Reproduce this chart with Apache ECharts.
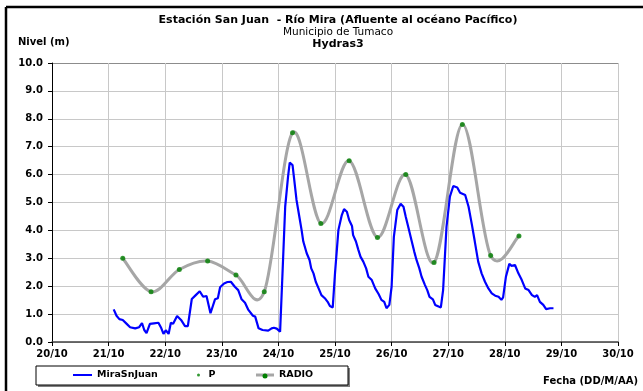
<!DOCTYPE html>
<html><head><meta charset="utf-8">
<script src="https://cdn.jsdelivr.net/npm/echarts@6/dist/echarts.min.js"></script>
<style>html,body{margin:0;padding:0;background:#fff}#c{width:643px;height:391px}</style>
</head><body><div id="c"></div>
<script>
const xTicks = ['20/10','21/10','22/10','23/10','24/10','25/10','26/10','27/10','28/10','29/10','30/10'];
const miraTimes = [21.09,21.14,21.19,21.25,21.32,21.38,21.47,21.54,21.59,21.63,
21.67,21.73,21.80,21.88,21.93,21.97,22.01,22.06,22.10,22.14,
22.21,22.28,22.35,22.40,22.47,22.54,22.61,22.67,22.73,22.80,
22.88,22.93,22.97,23.04,23.10,23.16,23.19,23.23,23.29,23.35,
23.41,23.47,23.55,23.59,23.65,23.72,23.82,23.88,23.92,23.97,
24.03,24.07,24.12,24.17,24.20,24.25,24.28,24.32,24.37,24.41,
24.44,24.50,24.55,24.58,24.62,24.66,24.71,24.76,24.82,24.87,
24.91,24.96,25.00,25.06,25.12,25.16,25.21,25.25,25.30,25.32,
25.37,25.41,25.45,25.50,25.55,25.59,25.65,25.71,25.77,25.82,
25.87,25.91,25.96,26.00,26.04,26.10,26.16,26.21,26.25,26.30,
26.35,26.40,26.44,26.49,26.53,26.59,26.63,26.67,26.73,26.77,
26.83,26.87,26.91,26.97,27.03,27.09,27.16,27.21,27.30,27.36,
27.42,27.47,27.53,27.59,27.65,27.71,27.77,27.83,27.89,27.94,
27.97,28.02,28.08,28.12,28.18,28.24,28.30,28.36,28.42,28.48,
28.53,28.57,28.62,28.68,28.73,28.80,28.86];
const miraValues = [1.17,0.94,0.82,0.79,0.65,0.53,0.49,0.53,0.68,0.43,
0.32,0.65,0.67,0.69,0.50,0.29,0.42,0.29,0.69,0.65,
0.93,0.79,0.57,0.57,1.54,1.68,1.82,1.62,1.65,1.03,
1.53,1.57,1.96,2.10,2.15,2.16,2.22,1.98,1.86,1.53,
1.41,1.15,0.94,0.91,0.49,0.43,0.41,0.49,0.51,0.48,
0.37,2.34,4.85,5.92,6.43,6.34,5.81,5.09,4.49,4.01,
3.60,3.18,2.94,2.64,2.46,2.16,1.92,1.68,1.57,1.44,
1.29,1.24,2.46,4.01,4.55,4.76,4.67,4.37,4.16,3.83,
3.60,3.32,3.06,2.88,2.64,2.34,2.22,1.92,1.72,1.51,
1.44,1.21,1.33,1.98,3.77,4.73,4.95,4.85,4.49,4.08,
3.66,3.24,2.94,2.64,2.34,2.04,1.86,1.62,1.53,1.33,
1.27,1.24,1.86,4.13,5.21,5.59,5.54,5.35,5.27,4.85,
4.19,3.60,2.88,2.46,2.16,1.92,1.74,1.66,1.62,1.51,
1.60,2.34,2.80,2.73,2.76,2.46,2.22,1.92,1.86,1.68,
1.62,1.68,1.44,1.33,1.18,1.21,1.21];
const radioTimes = [21.25,21.75,22.25,22.75,23.25,23.75,24.25,24.75,25.25,25.75,26.25,26.75,27.25,27.75,28.25];
const radioValues = [3.0,1.8,2.6,2.9,2.4,1.8,7.5,4.25,6.5,3.75,6.0,2.85,7.8,3.1,3.8];

const FONT = '"DejaVu Sans", sans-serif';
const zip = (a,b) => a.map((t,i)=>[t,b[i]]);
const gridColors = ['#c8c8c8','#c8c8c8','#c8c8c8','#c8c8c8','#c8c8c8','#c8c8c8','#c8c8c8','#c8c8c8','#c8c8c8','#c8c8c8','#8c8c8c'];
const legText = {fontFamily:FONT,fontWeight:'bold',fontSize:9.5,color:'#000'};

// Excel-like smoothed segment (Catmull-Rom as cubic Bezier) through the library's coordinate system
function radioSegment(params, api){
  const i = params.dataIndex;
  const n = radioTimes.length;
  if (i >= n - 1) return null;
  const P = j => api.coord([radioTimes[Math.max(0,Math.min(n-1,j))], radioValues[Math.max(0,Math.min(n-1,j))]]);
  const p0 = P(i-1), p1 = P(i), p2 = P(i+1), p3 = P(i+2);
  return {type:'bezierCurve',
    shape:{x1:p1[0],y1:p1[1],x2:p2[0],y2:p2[1],
      cpx1:p1[0]+(p2[0]-p0[0])/6, cpy1:p1[1]+(p2[1]-p0[1])/6,
      cpx2:p2[0]-(p3[0]-p1[0])/6, cpy2:p2[1]-(p3[1]-p1[1])/6},
    style:{stroke:'#a6a6a6',lineWidth:3,fill:null,lineCap:'round'}, silent:true};
}

const chart = echarts.init(document.getElementById('c'), null, {renderer:'canvas'});
chart.setOption({
  animation:false,
  backgroundColor:'#fff',
  grid:{left:52,right:25,top:63,bottom:49,containLabel:false},
  xAxis:{type:'value',min:20,max:30,interval:1,
    axisLine:{show:true,onZero:false,lineStyle:{color:'#404040',width:1.5}},
    axisTick:{show:true,length:4,lineStyle:{color:'#000'}},
    axisLabel:{margin:7,color:'#000',fontFamily:FONT,fontWeight:'bold',fontSize:10,
      formatter:v=>xTicks[Math.round(v-20)]},
    splitLine:{show:true,lineStyle:{color:'#c8c8c8',width:1}}},
  yAxis:{type:'value',min:0,max:10,interval:1,
    axisLine:{show:true,lineStyle:{color:'#000',width:1}},
    axisTick:{show:true,length:4,lineStyle:{color:'#000'}},
    axisLabel:{margin:9,color:'#000',fontFamily:FONT,fontWeight:'bold',fontSize:10,
      formatter:v=>v.toFixed(1)},
    splitLine:{show:true,lineStyle:{color:gridColors,width:1}}},
  legend:[
    {data:[{name:'MiraSnJuan',icon:'rect',itemStyle:{color:'#0000ff'}}],left:73,top:370,padding:0,itemWidth:19,itemHeight:2,textStyle:legText},
    {data:[{name:'P',icon:'circle',itemStyle:{color:'#008000'}}],left:197,top:370,padding:0,itemWidth:10,itemHeight:3,textStyle:legText},
    {data:[{name:'RADIO',icon:'rect',itemStyle:{color:'#a6a6a6'}}],left:256,top:370,padding:0,itemWidth:18,itemHeight:3,textStyle:legText}
  ],
  graphic:[
    {type:'line',shape:{x1:6,y1:7,x2:643,y2:7},style:{stroke:'#000',lineWidth:2.5},silent:true},
    {type:'line',shape:{x1:6,y1:7,x2:6,y2:391},style:{stroke:'#000',lineWidth:2.5},silent:true},
    {type:'rect',shape:{x:38,y:368,width:312,height:19},style:{fill:'#7f7f7f'},silent:true,z:-1},
    {type:'rect',shape:{x:36,y:366,width:312,height:19},style:{fill:'#fff',stroke:'#000',lineWidth:1},silent:true,z:0},
    {type:'circle',shape:{cx:265,cy:376,r:2.5},style:{fill:'#008000'},silent:true,z:100},
    {type:'text',x:338,y:20,style:{text:'Estación San Juan  - Río Mira (Afluente al océano Pacífico)',font:'bold 11px '+FONT,fill:'#000',textAlign:'center',textVerticalAlign:'middle'}},
    {type:'text',x:338,y:32,style:{text:'Municipio de Tumaco',font:'10.5px '+FONT,fill:'#000',textAlign:'center',textVerticalAlign:'middle'}},
    {type:'text',x:338,y:44,style:{text:'Hydras3',font:'bold 11px '+FONT,fill:'#000',textAlign:'center',textVerticalAlign:'middle'}},
    {type:'text',x:18,y:42,style:{text:'Nivel (m)',font:'bold 10px '+FONT,fill:'#000',textAlign:'left',textVerticalAlign:'middle'}},
    {type:'text',x:638,y:381,style:{text:'Fecha (DD/M/AA)',font:'bold 10px '+FONT,fill:'#000',textAlign:'right',textVerticalAlign:'middle'}}
  ],
  series:[
    {name:'MiraSnJuan',type:'line',data:zip(miraTimes,miraValues),symbol:'none',
      lineStyle:{color:'#0000ff',width:2.2},itemStyle:{color:'#0000ff'},z:3},
    {name:'RADIO',type:'custom',data:zip(radioTimes,radioValues),renderItem:radioSegment,
      itemStyle:{color:'#a6a6a6'},encode:{x:0,y:1},z:2,clip:false},
    {name:'P',type:'scatter',data:zip(radioTimes,radioValues),symbol:'circle',symbolSize:5,
      itemStyle:{color:'#008000'},z:4}
  ]
});
</script></body></html>
